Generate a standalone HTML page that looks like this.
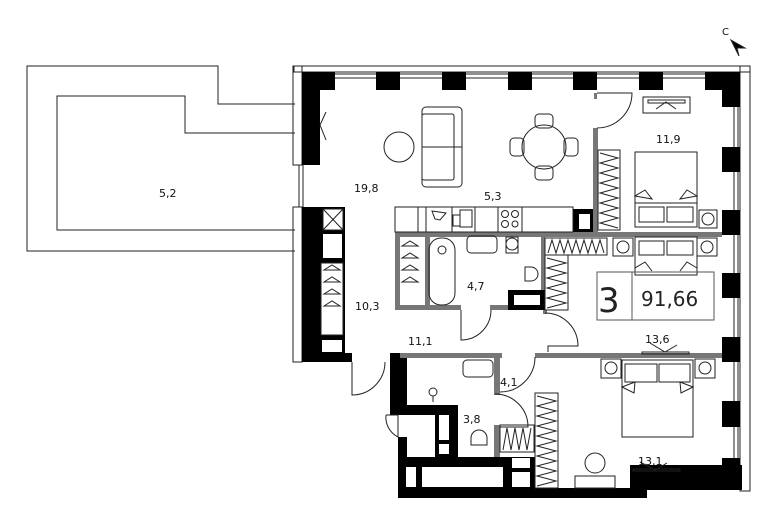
<!DOCTYPE html>
<html><head><meta charset="utf-8"><style>
html,body{margin:0;padding:0;background:#fff;width:776px;height:526px;overflow:hidden}
svg{display:block}
text{font-family:"DejaVu Sans","Liberation Sans",sans-serif;font-size:11px;fill:#111}
</style></head><body>
<svg width="776" height="526" viewBox="0 0 776 526" xmlns="http://www.w3.org/2000/svg">
<g fill="none" stroke="#222" stroke-width="1">
<!-- terrace -->
<polyline points="295,104 218,104 218,66 27,66 27,251 295,251"/>
<polyline points="295,133 185,133 185,96 57,96 57,230 295,230"/>
<!-- outer light frames -->
<rect x="293" y="66" width="9" height="99"/>
<rect x="293" y="207" width="9" height="155"/>
<rect x="294" y="66" width="456" height="6"/>
<rect x="740" y="66" width="10" height="425"/>
<line x1="302" y1="74" x2="722" y2="74"/><line x1="302" y1="78" x2="722" y2="78"/>
<line x1="734" y1="90" x2="734" y2="470"/><line x1="738" y1="90" x2="738" y2="470"/>
<line x1="299" y1="165" x2="299" y2="207"/><line x1="303" y1="165" x2="303" y2="207"/>
</g>
<g fill="#000">
<!-- top wall corners and columns -->
<rect x="302" y="72" width="33" height="18"/>
<rect x="302" y="72" width="18" height="93"/>
<rect x="376" y="72" width="24" height="18"/>
<rect x="442" y="72" width="24" height="18"/>
<rect x="508" y="72" width="24" height="18"/>
<rect x="573" y="72" width="24" height="18"/>
<rect x="639" y="72" width="24" height="18"/>
<rect x="705" y="72" width="35" height="18"/>
<rect x="722" y="72" width="18" height="35"/>
<rect x="722" y="147" width="18" height="25"/>
<rect x="722" y="210" width="18" height="25"/>
<rect x="722" y="273" width="18" height="25"/>
<rect x="722" y="337" width="18" height="25"/>
<rect x="722" y="401" width="18" height="26"/>
<!-- left lower wall -->
<rect x="302" y="207" width="16" height="155"/>
<rect x="318" y="207" width="27" height="146"/>
<rect x="318" y="353" width="34" height="9"/>
<!-- bottom block -->
<rect x="390" y="353" width="17" height="62"/>
<rect x="398" y="437" width="9" height="61"/>
<rect x="398" y="457" width="137" height="41"/>
<rect x="407" y="405" width="51" height="10"/>
<rect x="435" y="405" width="23" height="52"/>
<rect x="535" y="488" width="112" height="10"/>
<rect x="630" y="465" width="112" height="25"/>
<rect x="722" y="458" width="18" height="32"/>
<!-- kitchen black box -->
<rect x="573" y="209" width="22" height="24"/>
<rect x="508" y="290" width="37" height="20"/>
</g>
<g fill="#fff">
<rect x="323" y="209" width="20" height="21" stroke="#222"/>
<rect x="323" y="234" width="19" height="24"/>
<rect x="321" y="263" width="22" height="72" stroke="#222"/>
<rect x="322" y="340" width="20" height="12"/>
<rect x="579" y="214" width="11" height="15"/>
<rect x="514" y="295" width="26" height="10"/>
<rect x="407" y="358" width="48" height="47"/>
<rect x="439" y="415" width="10" height="25"/>
<rect x="439" y="444" width="10" height="10"/>
<rect x="406" y="467" width="10" height="20"/>
<rect x="422" y="467" width="81" height="20"/>
<rect x="512" y="458" width="18" height="10"/>
<rect x="512" y="472" width="18" height="15"/>
</g>
<g stroke="#222" fill="none" stroke-width="1">
<line x1="323" y1="209" x2="343" y2="230"/><line x1="343" y1="209" x2="323" y2="230"/>
</g>
<!-- grey walls -->
<g fill="#777">
<rect x="395" y="232" width="327" height="5"/>
<rect x="593" y="128" width="5" height="104"/>
<rect x="594" y="93" width="3" height="6"/>
<rect x="395" y="232" width="5" height="78"/>
<rect x="425" y="236" width="5" height="74"/>
<rect x="395" y="305" width="66" height="5"/>
<rect x="541" y="236" width="4" height="54"/>
<rect x="490" y="305" width="18" height="5"/>
<rect x="400" y="353" width="102" height="5"/>
<rect x="494" y="358" width="6" height="37"/>
<rect x="494" y="425" width="6" height="32"/>
<rect x="535" y="353" width="187" height="5"/>
<rect x="543" y="310" width="4" height="4"/>
</g>
<g fill="none" stroke="#222" stroke-width="1">
<!-- door arcs -->
<path d="M597,128 A35,35 0 0 0 632,93 L597,93"/>
<path d="M461,310 L461,340 A30,30 0 0 0 491,310"/>
<path d="M545,313 A33,33 0 0 1 578,346 L548,346 L548,352"/>
<path d="M500,392 A35,35 0 0 0 535,357"/>
<path d="M495,394 A33,33 0 0 1 528,427 L500,427"/>
<path d="M352,362 L352,395 A33,33 0 0 0 385,362"/>
<path d="M386,415 L398,415 L398,437 A22,22 0 0 1 386,415"/>
<path d="M326,112 L320,125 L326,140"/>
<!-- furniture: sofa, tables -->
<circle cx="399" cy="147" r="15"/>
<rect x="422" y="107" width="40" height="80" rx="4"/>
<rect x="422" y="114" width="32" height="66" rx="2"/>
<line x1="422" y1="147" x2="462" y2="147"/>
<circle cx="544" cy="147" r="22"/>
<rect x="535" y="114" width="18" height="14" rx="4"/>
<rect x="535" y="166" width="18" height="14" rx="4"/>
<rect x="510" y="138" width="14" height="18" rx="4"/>
<rect x="564" y="138" width="14" height="18" rx="4"/>
<!-- AC -->
<rect x="643" y="97" width="47" height="16"/>
<rect x="648" y="100" width="37" height="3"/>
<path d="M656,109 L666,102 L676,109"/>
<!-- kitchen counter -->
<rect x="395" y="207" width="178" height="25"/>
<line x1="418" y1="207" x2="418" y2="232"/><line x1="426" y1="207" x2="426" y2="232"/>
<line x1="452" y1="207" x2="452" y2="232"/><line x1="475" y1="207" x2="475" y2="232"/>
<line x1="498" y1="207" x2="498" y2="232"/><line x1="522" y1="207" x2="522" y2="232"/>
<circle cx="505" cy="214" r="3.5"/><circle cx="515" cy="214" r="3.5"/>
<circle cx="505" cy="224" r="3.5"/><circle cx="515" cy="224" r="3"/>
<rect x="460" y="210" width="12" height="17"/><rect x="453" y="215" width="7" height="11"/>
<path d="M432,211 L446,213 L440,220 L435,219 Z"/>
<!-- wardrobes -->
<rect x="598" y="150" width="22" height="80"/>
<path d="M600,153 L618,158 L600,163 L618,168 L600,173 L618,178 L600,183 L618,188 L600,193 L618,198 L600,203 L618,208 L600,213 L618,218 L600,223 L618,228"/>
<rect x="545" y="238" width="62" height="17"/>
<path d="M548,253 L552,240 L556,253 L560,240 L564,253 L568,240 L572,253 L576,240 L580,253 L584,240 L588,253 L592,240 L596,253 L600,240 L604,253"/>
<rect x="545" y="255" width="23" height="55"/>
<path d="M547,258 L566,263 L547,268 L566,273 L547,278 L566,283 L547,288 L566,293 L547,298 L566,303 L547,308"/>
<rect x="535" y="393" width="23" height="95"/>
<path d="M537,396 L556,401 L537,406 L556,411 L537,416 L556,421 L537,426 L556,431 L537,436 L556,441 L537,446 L556,451 L537,456 L556,461 L537,466 L556,471 L537,476 L556,481 L537,486"/>
<rect x="500" y="425" width="34" height="27"/>
<path d="M503,450 L507,428 L511,450 L515,428 L519,450 L523,428 L527,450 L531,428"/>
<!-- beds -->
<rect x="635" y="152" width="62" height="75"/>
<rect x="639" y="207" width="25" height="15"/><rect x="667" y="207" width="26" height="15"/>
<path d="M635,196 L645,190 L652,199 Z M697,196 L687,190 L680,199 Z"/>
<line x1="635" y1="203" x2="697" y2="203"/>
<rect x="699" y="210" width="18" height="18"/><circle cx="708" cy="219" r="6"/>
<rect x="613" y="238" width="20" height="18"/><circle cx="623" cy="247" r="6"/>
<rect x="697" y="238" width="20" height="18"/><circle cx="707" cy="247" r="6"/>
<rect x="635" y="237" width="62" height="38"/>
<rect x="639" y="241" width="25" height="14"/><rect x="667" y="241" width="26" height="14"/>
<path d="M635,268 L645,262 L652,271 M697,268 L687,262 L680,271"/>
<rect x="622" y="360" width="71" height="77"/>
<rect x="625" y="364" width="32" height="18"/><rect x="659" y="364" width="31" height="18"/>
<path d="M622,387 L635,382 L634,393 Z M693,387 L680,382 L681,393 Z"/>
<rect x="601" y="359" width="20" height="19"/><circle cx="611" cy="368" r="6"/>
<rect x="695" y="359" width="20" height="19"/><circle cx="705" cy="368" r="6"/>
<!-- window sills -->
<rect x="642" y="352" width="47" height="2"/>
<path d="M650,343 L665,352 L677,345"/>
<rect x="633" y="469" width="47" height="2"/>
<path d="M640,462 L655,470 L667,463"/>
<!-- round chair & desk -->
<circle cx="595" cy="463" r="10"/>
<rect x="575" y="476" width="40" height="12"/>
<!-- bathroom fixtures -->
<rect x="429" y="238" width="26" height="67" rx="12"/>
<circle cx="442" cy="250" r="4"/>
<rect x="467" y="236" width="30" height="17" rx="4"/>
<circle cx="512" cy="244" r="6"/>
<rect x="506" y="237" width="12" height="16"/>
<path d="M525,267 L531,267 A7,7 0 0 1 531,281 L525,281 Z"/>
<rect x="463" y="360" width="30" height="17" rx="4"/>
<path d="M471,445 L471,438 A8,8 0 0 1 487,438 L487,445 Z"/>
<circle cx="433" cy="392" r="4"/><line x1="433" y1="396" x2="433" y2="402"/>
<!-- hangers -->
<path d="M402,246 L410,241 L418,246 Z M402,258 L410,253 L418,258 Z M402,270 L410,265 L418,270 Z M402,282 L410,277 L418,282 Z"/>
<path d="M324,270 L332,265 L340,270 Z M324,282 L332,277 L340,282 Z M324,294 L332,289 L340,294 Z M324,306 L332,301 L340,306 Z"/>
<!-- compass -->
<path d="M731,40 L745,48 L737,48 L739,56 Z" fill="#000"/>
<!-- area box -->
<rect x="597" y="272" width="117" height="48" stroke="#555"/>
<line x1="632" y1="272" x2="632" y2="320" stroke="#555"/>
</g>
<text x="722" y="35" style="font-size:10px">C</text>
<text x="159" y="197">5,2</text>
<text x="354" y="192">19,8</text>
<text x="484" y="200">5,3</text>
<text x="656" y="143">11,9</text>
<text x="355" y="310">10,3</text>
<text x="467" y="290">4,7</text>
<text x="408" y="345">11,1</text>
<text x="500" y="386">4,1</text>
<text x="463" y="423">3,8</text>
<text x="645" y="343">13,6</text>
<text x="638" y="465">13,1</text>
<text x="598" y="312" style="font-size:34px;fill:#222">3</text>
<text x="641" y="306" style="font-size:20px;fill:#222">91,66</text>
</svg>
</body></html>
